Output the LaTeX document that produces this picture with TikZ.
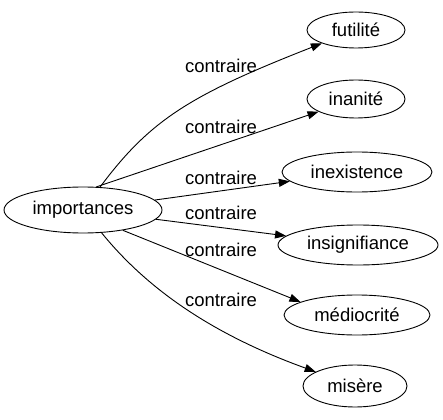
\documentclass[tikz,border=0pt]{standalone}
\usepackage{fontspec}
\setmainfont{Liberation Sans}
\usetikzlibrary{arrows.meta,shapes.geometric}
\begin{document}
\begin{tikzpicture}[x=1pt,y=-1pt,
  every node/.style={font=\fontsize{18.5}{20}\selectfont},
  term/.style={draw,ellipse,line width=0.9pt,inner sep=0pt,minimum height=40pt},
  rel/.style={draw,line width=0.9pt,-{Triangle[length=11pt,width=8pt]}},
  lbl/.style={inner sep=0pt}]
\useasboundingbox (0,0) rectangle (443,419);
\node[term,minimum width=158pt,minimum height=46pt] (imp) at (83,210) {importances};
\node[term,minimum width=98pt,minimum height=36pt] (fut) at (356,30) {futilité};
\node[term,minimum width=98pt,minimum height=38pt] (ina) at (356,99) {inanité};
\node[term,minimum width=150pt] (inx) at (357,172) {inexistence};
\node[term,minimum width=160pt] (ins) at (358,245) {insignifiance};
\node[term,minimum width=146pt] (med) at (357,315) {médiocrité};
\node[term,minimum width=104pt,minimum height=42pt] (mis) at (355,386) {misère};
\node[lbl] (l1) at (221,66) {contraire};
\node[lbl] (l2) at (221,127) {contraire};
\node[lbl] (l3) at (221,178) {contraire};
\node[lbl] (l4) at (221,213) {contraire};
\node[lbl] (l5) at (221,250) {contraire};
\node[lbl] (l6) at (221,300) {contraire};
\draw[rel] (imp) .. controls (150,120) and (190,95) .. (fut);
\draw[rel] (imp.60) -- (ina);
\draw[rel] (imp) -- (inx);
\draw[rel] (imp) -- (ins);
\draw[rel] (imp.-27) -- (med.167);
\draw[rel] (imp) .. controls (140,280) and (200,330) .. (mis);
\end{tikzpicture}
\end{document}
